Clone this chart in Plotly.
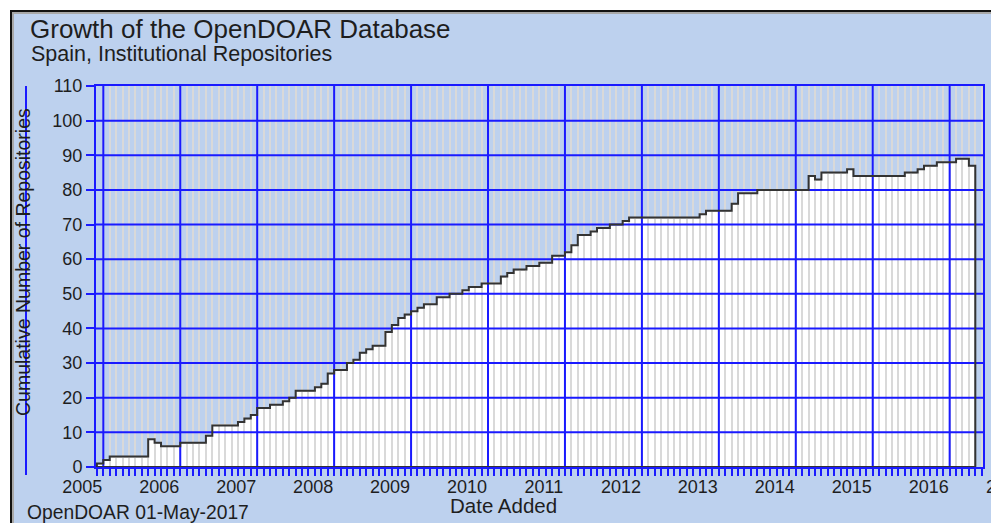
import plotly.graph_objects as go

# ---------------- data ----------------
# month offsets from January 2005 (start of each monthly bar)
month_offsets = list(range(-1, 136))
repositories = [
    1, 2, 3, 3, 3, 3, 3, 3, 8, 7, 6, 6, 6, 7, 7, 7, 7, 9, 12, 12, 12, 12, 13, 14, 15,
    17, 17, 18, 18, 19, 20, 22, 22, 22, 23, 24, 27, 28, 28, 30, 31, 33, 34, 35, 35,
    39, 41, 43, 44, 45, 46, 47, 47, 49, 49, 50, 50, 51, 52, 52, 53, 53, 53, 55, 56,
    57, 57, 58, 58, 59, 59, 61, 61, 62, 64, 67, 67, 68, 69, 69, 70, 70, 71,
    72, 72, 72, 72, 72, 72, 72, 72, 72, 72, 72, 73, 74, 74, 74, 74, 76, 79, 79, 79,
    80, 80, 80, 80, 80, 80, 80, 80, 84, 83, 85, 85, 85, 85, 86,
    84, 84, 84, 84, 84, 84, 84, 84, 85, 85, 86, 87, 87, 88, 88, 88, 89, 89, 87,
]
year_labels = ["2005", "2006", "2007", "2008", "2009", "2010", "2011", "2012",
               "2013", "2014", "2015", "2016"]
year_tick_months = [0, 12, 24, 36, 48, 60, 72, 84, 96, 108, 120, 132]
next_year_label = "2017"
y_tick_values = [0, 10, 20, 30, 40, 50, 60, 70, 80, 90, 100, 110]

# ---------------- style ----------------
W, H = 991, 523
L, R, T, B = 96, 8, 86, 56
PW, PH = W - L - R, H - T - B
BLUE = "#1a1aff"
BG = "#BDD1EE"
GRAY = "#d9d9d9"
INK = "#333333"
TXT = "#1e1e1e"
FONT = "Liberation Sans, Arial, sans-serif"
X_RANGE = [-1.14, 137.2]
Y_RANGE = [0, 110]


def px_x(px):
    return (px - L) / PW


def px_y(py):
    return (H - B - py) / PH


fig = go.Figure()

# monthly bars (white with light-grey separators)
fig.add_trace(go.Bar(
    x=[m + 0.5 for m in month_offsets],
    y=repositories,
    width=1,
    marker=dict(color="white", line=dict(color=GRAY, width=2)),
    hoverinfo="skip",
    showlegend=False,
))

# blue grid drawn over the bars, built from the tick arrays
gx, gy = [], []
for m in year_tick_months:
    gx += [m, m, None]
    gy += [Y_RANGE[0], Y_RANGE[1], None]
for v in y_tick_values[1:-1]:
    gx += [X_RANGE[0], X_RANGE[1], None]
    gy += [v, v, None]
fig.add_trace(go.Scatter(
    x=gx, y=gy, mode="lines",
    line=dict(color=BLUE, width=2),
    hoverinfo="skip", showlegend=False,
))

# dark step outline of the cumulative count
sx = [month_offsets[0]] + month_offsets + [month_offsets[-1] + 1, month_offsets[-1] + 1, month_offsets[0]]
sy = [0] + repositories + [repositories[-1], 0, 0]
fig.add_trace(go.Scatter(
    x=sx, y=sy, mode="lines",
    line=dict(color=INK, width=2, shape="hv"),
    cliponaxis=False,
    hoverinfo="skip", showlegend=False,
))

# pixel position of the (clipped) 2017 label: one year after the 2016 grid line
month_px = PW / (X_RANGE[1] - X_RANGE[0])
label_2017_px = L + (year_tick_months[-1] + 12 - X_RANGE[0]) * month_px - 21

fig.update_layout(
    width=W, height=H,
    margin=dict(l=L, r=R, t=T, b=B, autoexpand=False),
    paper_bgcolor="white",
    plot_bgcolor=BG,
    font=dict(family=FONT, color=TXT),
    bargap=0,
    title=dict(
        text="Growth of the OpenDOAR Database",
        font=dict(size=26, family=FONT, color=TXT),
        xref="container", yref="container",
        x=30 / W, xanchor="left",
        y=1 - 28.5 / H, yanchor="middle",
    ),
    xaxis=dict(
        range=X_RANGE,
        tickmode="array",
        tickvals=year_tick_months,
        ticktext=year_labels,
        ticklabelshift=-21,
        ticklabelstandoff=-5,
        ticks="outside", ticklen=7, tickwidth=2, tickcolor=BLUE,
        tickfont=dict(size=18, family=FONT, color=TXT),
        showgrid=False, zeroline=False,
        showline=True, linecolor=BLUE, linewidth=2, mirror=True,
        layer="below traces",
        minor=dict(
            tickmode="linear", tick0=0, dtick=1,
            ticks="outside", ticklen=7, tickwidth=2, tickcolor=BLUE,
            showgrid=True, gridcolor=GRAY, gridwidth=2,
        ),
        fixedrange=True,
    ),
    yaxis=dict(
        range=Y_RANGE,
        tickmode="array",
        tickvals=y_tick_values,
        ticks="outside", ticklen=8, tickwidth=2, tickcolor=BLUE,
        tickfont=dict(size=18, family=FONT, color=TXT),
        showgrid=False, zeroline=False,
        showline=True, linecolor=BLUE, linewidth=2, mirror=True,
        fixedrange=True,
    ),
    shapes=[
        # outer panel frame
        dict(type="rect", xref="paper", yref="paper",
             x0=px_x(11), x1=px_x(1010), y0=px_y(540), y1=px_y(11),
             fillcolor=BG, line=dict(color="#111111", width=2), layer="below"),
        dict(type="rect", xref="paper", yref="paper",
             x0=px_x(13), x1=px_x(1008), y0=px_y(538), y1=px_y(13),
             fillcolor="rgba(0,0,0,0)", line=dict(color="#a8a8a8", width=2), layer="below"),
        # vertical blue line through the y-axis title
        dict(type="line", xref="paper", yref="paper",
             x0=px_x(26), x1=px_x(26), y0=px_y(475), y1=px_y(86),
             line=dict(color=BLUE, width=2), layer="above"),
    ],
    annotations=[
        dict(text="Spain, Institutional Repositories", xref="paper", yref="paper",
             x=px_x(29), y=px_y(54), xanchor="left", yanchor="middle",
             showarrow=False, font=dict(size=21.5, family=FONT, color=TXT)),
        dict(text="Cumulative Number of Repositories", xref="paper", yref="paper",
             x=px_x(23), y=px_y(262), xanchor="center", yanchor="middle",
             textangle=-90, showarrow=False, font=dict(size=19.5, family=FONT, color=TXT)),
        dict(text="Date Added", xref="paper", yref="paper",
             x=px_x(503), y=px_y(505.5), xanchor="center", yanchor="middle",
             showarrow=False, font=dict(size=20.5, family=FONT, color=TXT)),
        dict(text="OpenDOAR 01-May-2017", xref="paper", yref="paper",
             x=px_x(25), y=px_y(512.5), xanchor="left", yanchor="middle",
             showarrow=False, font=dict(size=19.3, family=FONT, color=TXT)),
        dict(text=next_year_label, xref="paper", yref="paper",
             x=px_x(label_2017_px), y=px_y(487), xanchor="center", yanchor="middle",
             showarrow=False, font=dict(size=18, family=FONT, color=TXT)),
    ],
)

fig.write_html(
    "out.html",
    config={"displayModeBar": False},
    post_script="document.body.style.margin='0';document.body.style.padding='0';",
)
